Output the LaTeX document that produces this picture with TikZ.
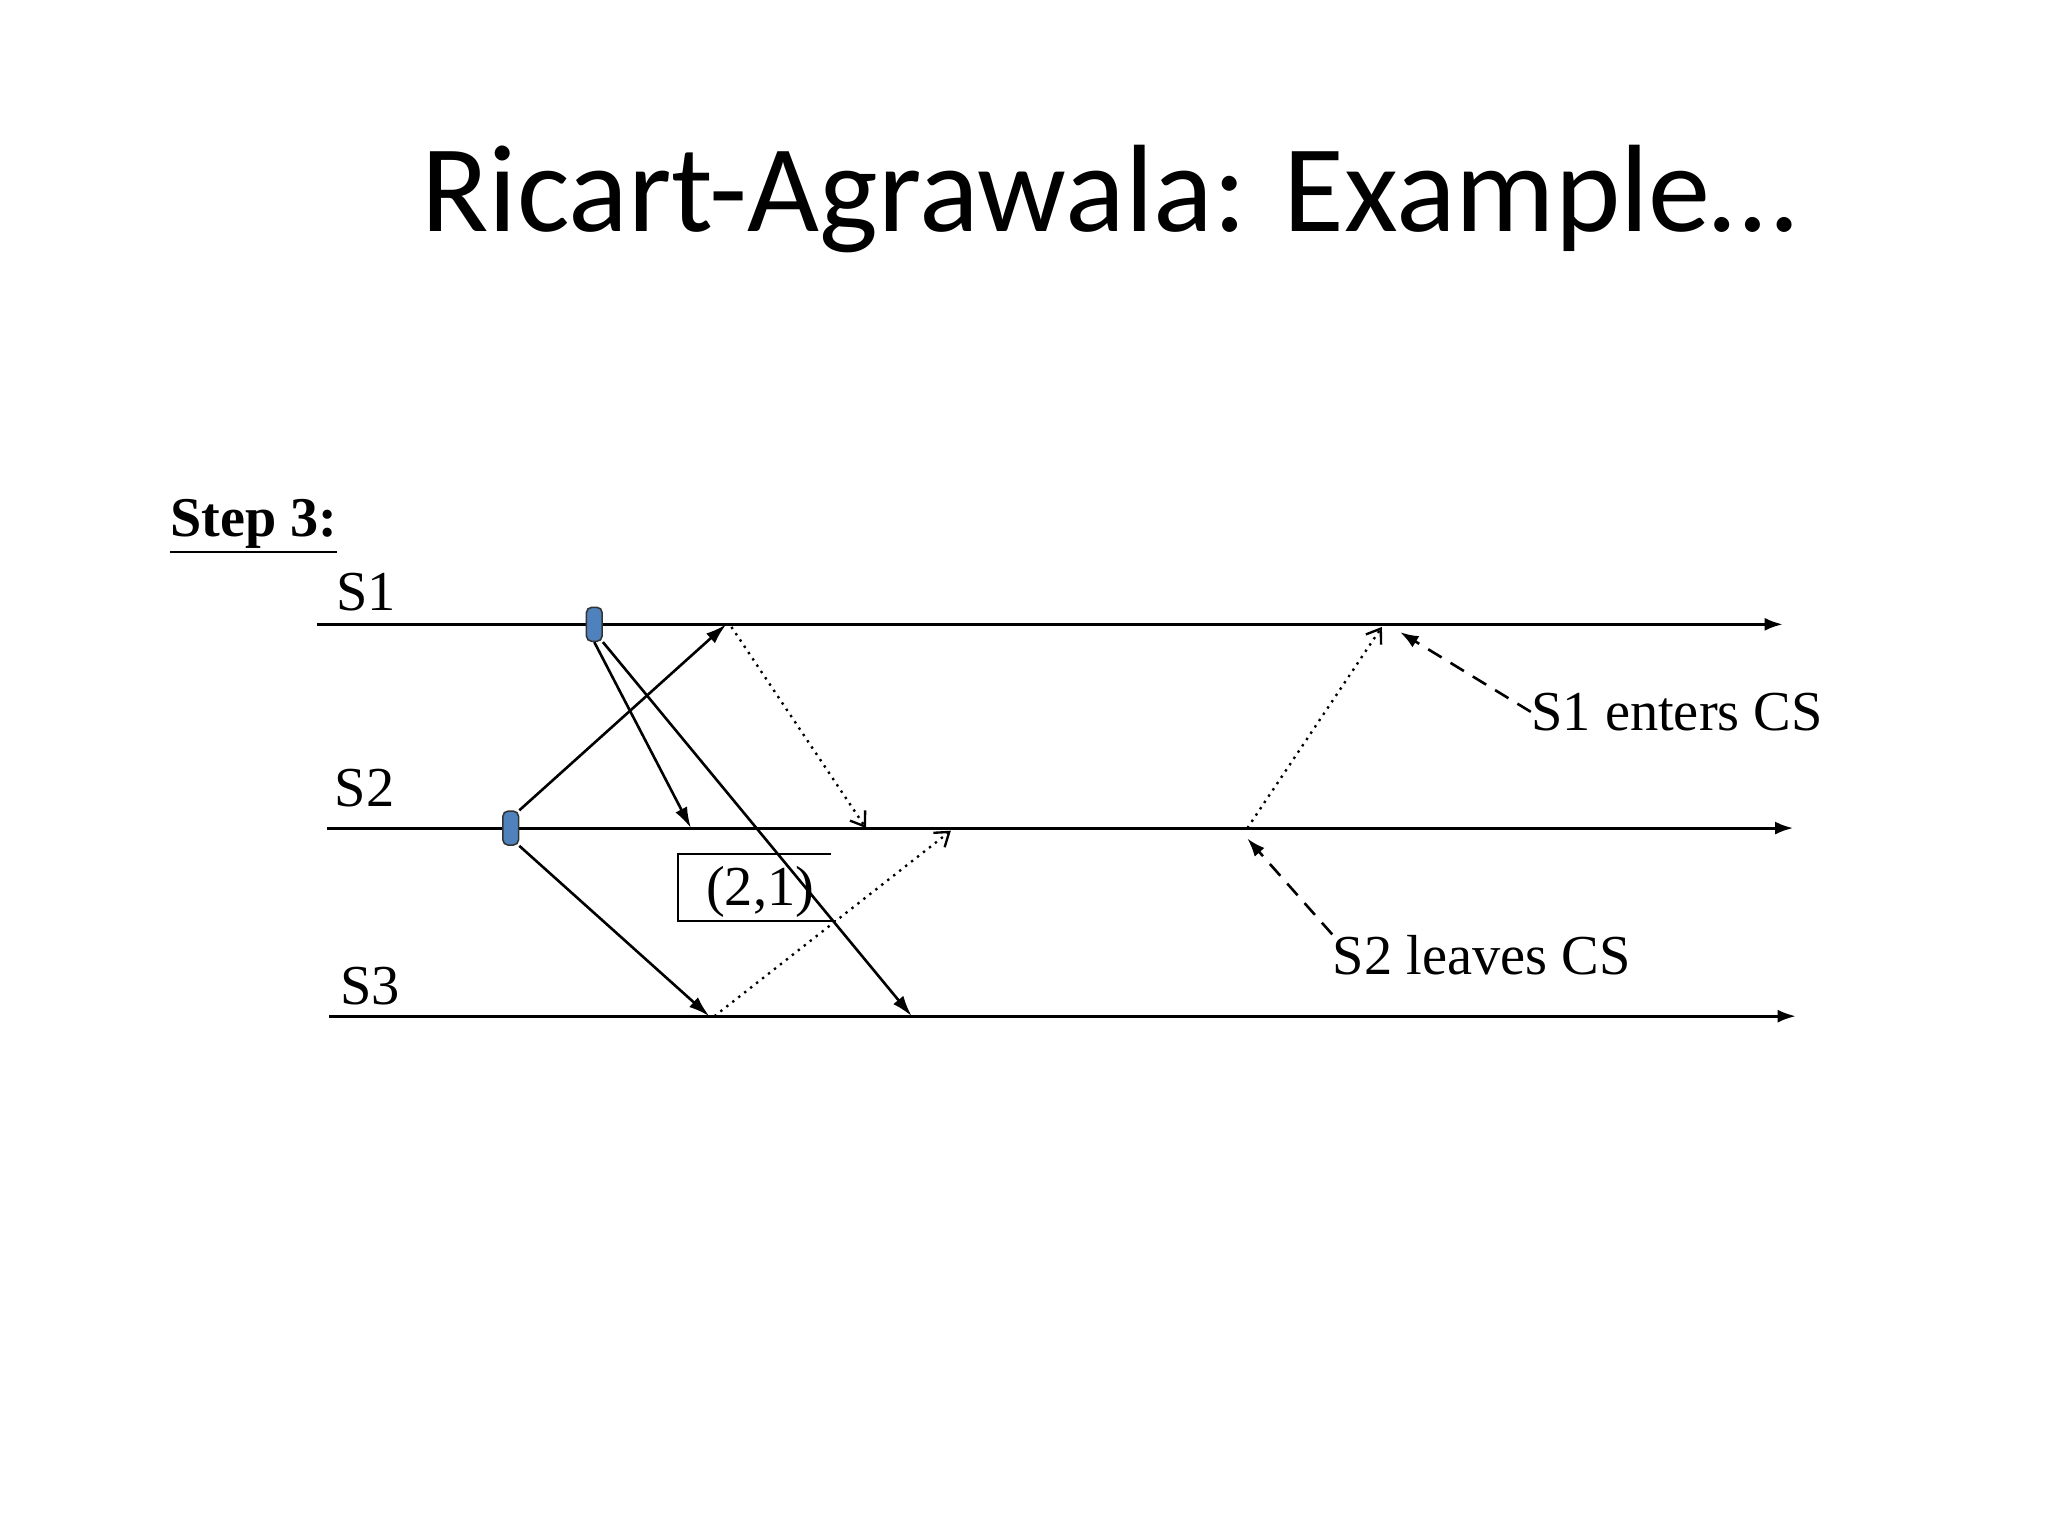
\documentclass[tikz,border=0pt]{standalone}
\usepackage{fontspec}
\setmainfont{Liberation Serif}
\newfontfamily\titlefont{Carlito}
\usetikzlibrary{arrows.meta}
\definecolor{pillblue}{HTML}{4F81BD}
\begin{document}
\begin{tikzpicture}[x=0.5pt,y=-0.5pt,
  tl/.style={line width=1.1pt,-{Latex[length=7pt,width=5pt]}},
  msg/.style={line width=1pt,-{Latex[length=8pt,width=5pt]}},
  rep/.style={line width=0.9pt,dotted,-{Straight Barb[length=5pt,width=7pt]}},
  note/.style={line width=1pt,dash pattern=on 6pt off 4pt,-{Latex[length=7pt,width=5pt]}},
  lab/.style={font=\fontsize{21.6}{21.6}\selectfont,inner sep=0pt},
  pill/.style={draw=black!80,fill=pillblue,rounded corners=2pt,minimum width=6pt,minimum height=13pt,inner sep=0pt,line width=0.6pt}]
\useasboundingbox (0,0) rectangle (1568,1176);
\node[font=\titlefont\fontsize{47.6}{47.6}\selectfont,inner sep=0pt] (title) at (849,152) {Ricart-Agrawala: Example…};
\node[font=\bfseries\fontsize{21.5}{21.5}\selectfont,anchor=west,inner sep=0pt] (step) at (130,403) {\underline{Step 3:}};
\node[lab,anchor=west] (l1) at (257,453) {S1};
\node[lab,anchor=west] (l2) at (256,603) {S2};
\node[lab,anchor=west] (l3) at (260,755) {S3};
\coordinate (a1) at (243,478); \coordinate (b1) at (1365,478);
\coordinate (a2) at (250,634); \coordinate (b2) at (1373,634);
\coordinate (a3) at (252,778); \coordinate (b3) at (1375,778);
\draw[tl] (a1) -- (b1);
\draw[tl] (a2) -- (b2);
\draw[tl] (a3) -- (b3);
\node[pill] (p1) at (455,478) {};
\node[pill] (p2) at (391,634) {};
\coordinate (r21) at (529,634);
\coordinate (r31) at (698,778);
\coordinate (r12) at (556,478);
\coordinate (r32) at (543,778);
\draw[msg] (p1.south) -- (r21);
\draw[msg] (p1.south east) -- (r31);
\draw[msg] (p2.north east) -- (r12);
\draw[msg] (p2.south east) -- (r32);
\coordinate (d1s) at (560,480); \coordinate (d1e) at (663,634);
\coordinate (d2s) at (547,778); \coordinate (d2e) at (728,636);
\coordinate (d3s) at (955,634); \coordinate (d3e) at (1058,480);
\draw[rep] (d1s) -- (d1e);
\draw[rep] (d2s) -- (d2e);
\draw[rep] (d3s) -- (d3e);
\node[lab,anchor=west] (n1) at (1172,545) {S1 enters CS};
\node[lab,anchor=west] (n2) at (1020,731) {S2 leaves CS};
\coordinate (n1t) at (1072,484);
\coordinate (n2t) at (955,642);
\draw[note] (n1.west) -- (n1t);
\draw[note] (n2.north west) -- (n2t);
\node[lab] (ts) at (582,683) {(2,1)};
\coordinate (bx1) at (636,654); \coordinate (bx2) at (519,654);
\coordinate (bx3) at (519,705); \coordinate (bx4) at (640,705);
\draw[line width=0.8pt] (bx1) -- (bx2) -- (bx3) -- (bx4);
\end{tikzpicture}
\end{document}
